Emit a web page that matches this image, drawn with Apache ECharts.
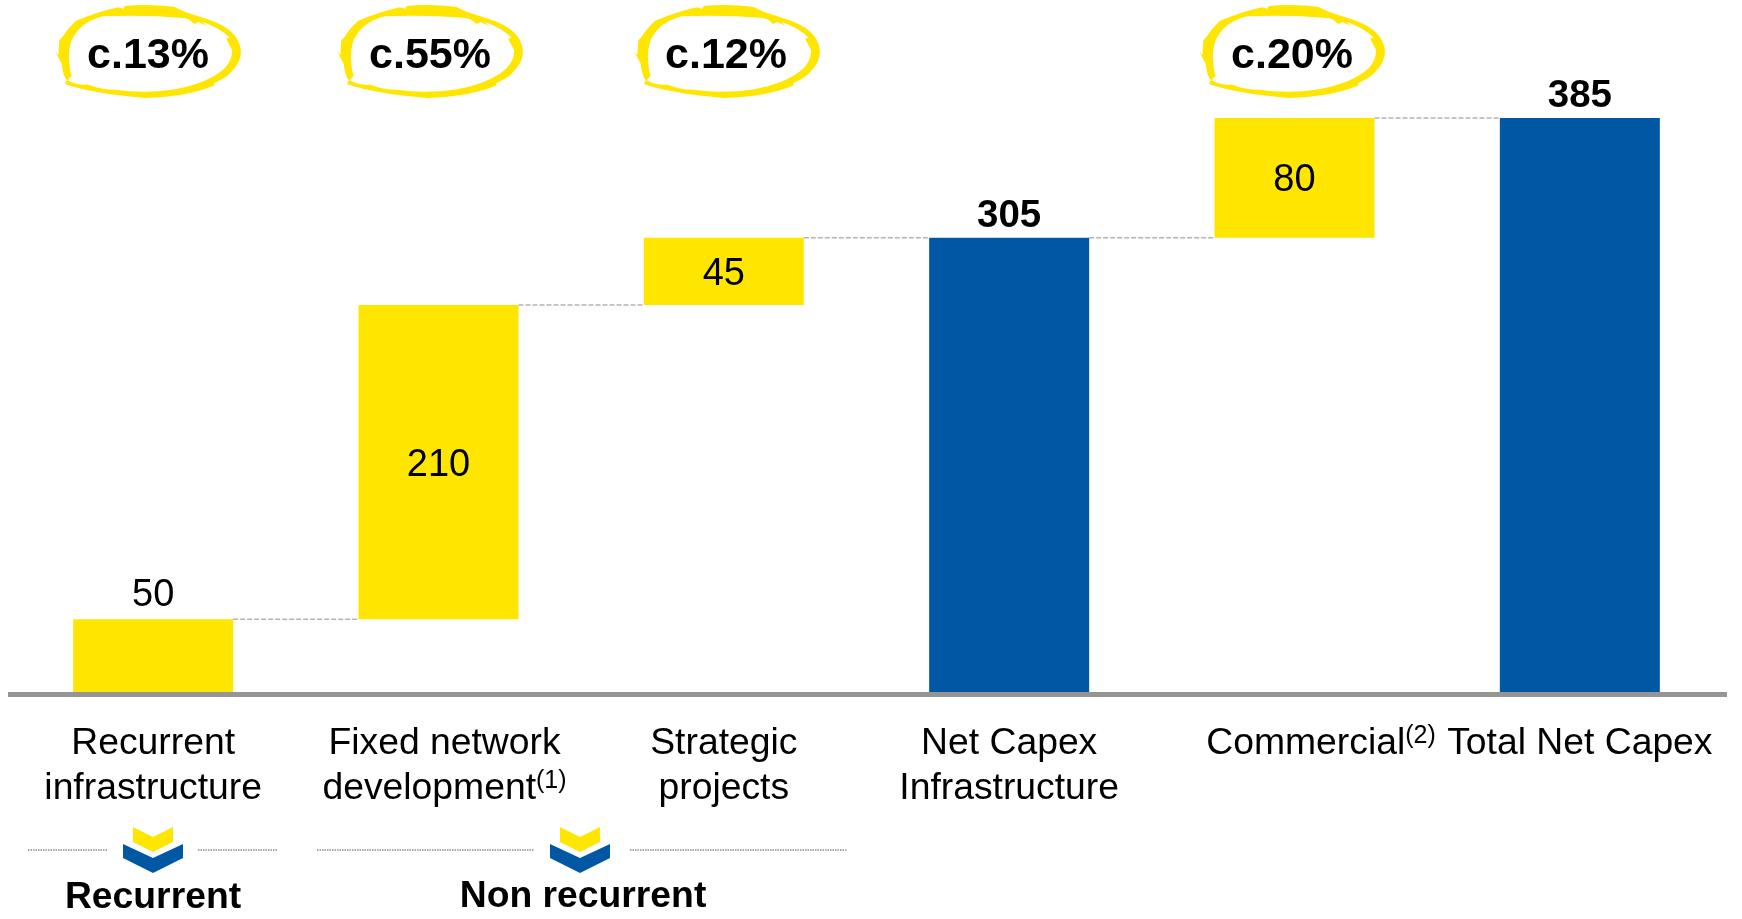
<!DOCTYPE html>
<html>
<head>
<meta charset="utf-8">
<title>Net Capex</title>
<style>
	html, body { margin: 0; padding: 0; background: #fff; }
	#main { width: 1742px; height: 919px; }
</style>
<script src="https://cdn.jsdelivr.net/npm/echarts@6/dist/echarts.min.js"></script>
</head>
<body>
<div id="main"></div>
<script>
var categories = ['Recurrent\ninfrastructure', 'Fixed network\ndevelopment(1)', 'Strategic\nprojects', 'Net Capex\nInfrastructure', 'Commercial(2)', 'Total Net Capex'];
var baseValues = [0, 50, 260, 0, 305, 0];
var stepValues = [50, 210, 45, 305, 80, 385];
var isTotal = [false, false, false, true, false, true];
var connectorLevels = [50, 260, 305, 305, 385];
var shareLabels = ['c.13%', 'c.55%', 'c.12%', 'c.20%'];
var groupLabels = ['Recurrent', 'Non recurrent'];

var YELLOW = '#FFE600', BLUE = '#0057A4', FONT = '"Liberation Sans", Arial, sans-serif';
var BAR_WIDTH = 160;

// 手绘椭圆，内圈 + 外圈（方向相反形成镂空）
var SCRIBBLE = 'M112 248 L118 238 L128 244 Q150 255 180 252 Q220 268 260 268 Q350 280 440 266 Q540 248 588 203 ' +
	'Q610 180 610 150 L592 116 L602 112 Q570 82 522 66 L534 78 L510 66 L497 72 Q480 54 465 54 Q350 44 225 49 ' +
	'Q180 60 154 87 Q132 112 128 132 Q122 160 124 180 Q126 215 132 225 L112 248 ' +
	'L118 240 Q105 225 102 190 L82 152 L92 165 L95 120 L105 110 Q115 90 145 62 Q210 35 270 22 L285 26 L290 18 ' +
	'Q360 12 436 20 L470 36 L530 55 Q630 85 636 150 Q640 185 600 222 Q590 232 556 248 L558 254 ' +
	'Q480 288 350 292 Q200 280 115 252 Z';
var scribbleLefts = [55, 337, 634, 1199];

function text(str, x, y, size, bold) {
	return { type: 'text', x: x, y: y, z: 6,
		style: { text: str, fill: '#000', font: (bold ? 'bold ' : '') + size + 'px ' + FONT, textAlign: 'center', textVerticalAlign: 'middle' } };
}
function dotted(x1, x2) {
	return { type: 'line', z: 5, shape: { x1: x1, y1: 850, x2: x2, y2: 850 }, style: { stroke: '#8c8c8c', lineWidth: 1.5, lineDash: [1.5, 1] } };
}
function chevrons(cx) {
	return [
		{ type: 'polygon', z: 5, shape: { points: [[cx - 20, 827], [cx, 837], [cx + 20, 827], [cx + 20, 842], [cx, 852], [cx - 20, 842]] }, style: { fill: YELLOW } },
		{ type: 'polygon', z: 5, shape: { points: [[cx - 30, 844], [cx, 858], [cx + 30, 844], [cx + 30, 858], [cx, 873], [cx - 30, 858]] }, style: { fill: BLUE } }
	];
}

var graphics = [
	// 基线
	{ type: 'rect', z: 4, shape: { x: 8, y: 692, width: 1719, height: 5 }, style: { fill: '#959595' } },
	text(shareLabels[0], 148, 56, 43, true),
	text(shareLabels[1], 430, 56, 43, true),
	text(shareLabels[2], 726, 56, 43, true),
	text(shareLabels[3], 1292, 56, 43, true),
	dotted(28, 107), dotted(198, 278), dotted(317, 534), dotted(630, 847),
	text(groupLabels[0], 153, 898, 37.3, true),
	text(groupLabels[1], 583, 897, 37.3, true)
].concat(chevrons(153), chevrons(580));

var chart = echarts.init(document.getElementById('main'));

chart.setOption({
	animation: false,
	backgroundColor: '#fff',
	textStyle: { fontFamily: FONT },
	grid: { left: 10.5, width: 1712, top: 118, height: 576 },
	xAxis: {
		type: 'category',
		data: categories,
		axisLine: { show: false },
		axisTick: { show: false },
		axisLabel: {
			interval: 0,
			margin: 27,
			color: '#000',
			fontSize: 37.3,
			lineHeight: 45,
			fontFamily: FONT,
			formatter: function (value) {
				if (value.indexOf('Commercial') === 0) return '{shift|Commercial}{sup|(2)}';
				if (value.indexOf('(1)') > 0) return '{nudge|Fixed network}\n{nudge|development}{sup|(1)}';
				return value;
			},
			rich: {
				sup: { fontSize: 25, padding: [0, 0, 14, 0], color: '#000', fontFamily: FONT },
				shift: { fontSize: 37.3, padding: [0, 0, 0, 53], color: '#000', fontFamily: FONT },
				nudge: { fontSize: 37.3, padding: [0, 0, 0, 12], color: '#000', fontFamily: FONT }
			}
		}
	},
	yAxis: { type: 'value', min: 0, max: 385, show: false },
	graphic: graphics,
	series: [
		{
			type: 'bar', stack: 'capex', barWidth: BAR_WIDTH, silent: true,
			itemStyle: { color: 'transparent' },
			data: baseValues
		},
		{
			type: 'bar', stack: 'capex', barWidth: BAR_WIDTH,
			data: stepValues.map(function (v, i) {
				var onTop = isTotal[i] || i === 0;
				return {
					value: v,
					itemStyle: { color: isTotal[i] ? BLUE : YELLOW },
					label: {
						show: true,
						position: onTop ? 'top' : 'inside',
						distance: isTotal[i] ? 2 : 5,
						offset: onTop ? [0, 0] : [0, 3],
						color: '#000',
						fontFamily: FONT,
						fontSize: isTotal[i] ? 38.5 : 38,
						fontWeight: isTotal[i] ? 'bold' : 'normal'
					}
				};
			})
		},
		{
			// 柱子之间的虚线
			type: 'custom',
			silent: true,
			z: 3,
			encode: { x: 0, y: 1 },
			data: connectorLevels.map(function (v, i) { return [i, v]; }),
			renderItem: function (params, api) {
				var a = api.coord([api.value(0), api.value(1)]);
				var b = api.coord([api.value(0) + 1, api.value(1)]);
				return {
					type: 'line',
					shape: { x1: a[0] + BAR_WIDTH / 2, y1: a[1], x2: b[0] - BAR_WIDTH / 2, y2: b[1] },
					style: { stroke: '#b4b4b4', lineWidth: 1.5, lineDash: [5, 2] }
				};
			}
		},
		{
			// 百分比外面的黄圈
			type: 'custom',
			coordinateSystem: 'none',
			silent: true,
			data: scribbleLefts,
			renderItem: function (params, api) {
				return {
					type: 'path',
					shape: { pathData: SCRIBBLE, x: api.value(0), y: 5, width: 186, height: 93 },
					layout: 'cover',
					style: { fill: YELLOW }
				};
			}
		}
	]
});
</script>
</body>
</html>
